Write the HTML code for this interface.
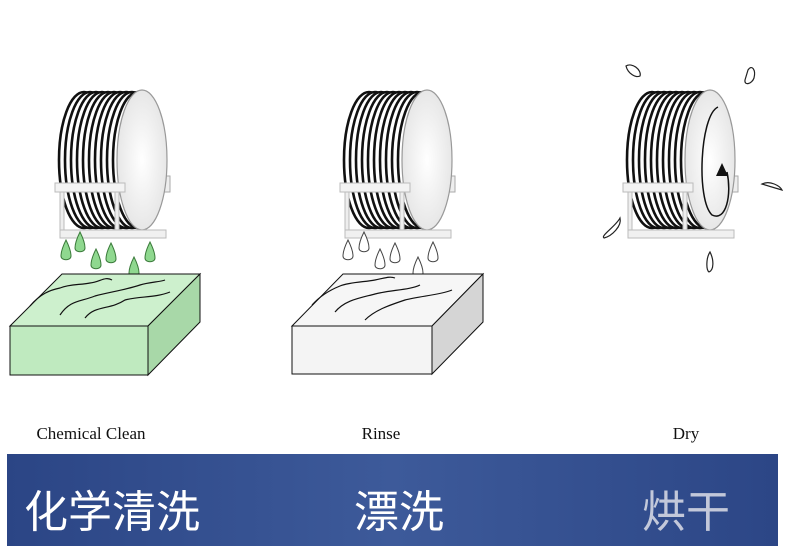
<!DOCTYPE html>
<html><head><meta charset="utf-8"><style>
html,body{margin:0;padding:0;background:#fff;width:800px;height:550px;overflow:hidden}
</style></head><body>
<svg width="800" height="550" viewBox="0 0 800 550" xmlns="http://www.w3.org/2000/svg">
<defs>
<linearGradient id="bn" x1="0" y1="0" x2="1" y2="0">
<stop offset="0" stop-color="#2b4585"/><stop offset="0.5" stop-color="#3d5a9a"/><stop offset="1" stop-color="#2c4686"/>
</linearGradient>
<radialGradient id="disc" cx="0.5" cy="0.5" r="0.6">
<stop offset="0" stop-color="#ffffff"/><stop offset="1" stop-color="#e2e2e2"/>
</radialGradient>
<g id="cas">
<g fill="#fff" stroke="#111" stroke-width="2.6">
<ellipse cx="84" cy="160" rx="25" ry="68"/>
<ellipse cx="90" cy="160" rx="25" ry="68"/>
<ellipse cx="96" cy="160" rx="25" ry="68"/>
<ellipse cx="102" cy="160" rx="25" ry="68"/>
<ellipse cx="108" cy="160" rx="25" ry="68"/>
<ellipse cx="114" cy="160" rx="25" ry="68"/>
<ellipse cx="120" cy="160" rx="25" ry="68"/>
<ellipse cx="126" cy="160" rx="25" ry="68"/>
<ellipse cx="132" cy="160" rx="25" ry="68"/>
<ellipse cx="138" cy="160" rx="25" ry="68"/>
</g>
<rect x="160" y="176" width="10" height="16" fill="#eee" stroke="#aaa"/>
<ellipse cx="142" cy="160" rx="25" ry="70" fill="url(#disc)" stroke="#999" stroke-width="1.2"/>
<rect x="55" y="183" width="70" height="9" fill="#f3f3f3" stroke="#bbb"/>
<rect x="60" y="192" width="4" height="40" fill="#eee" stroke="#bbb"/>
<rect x="115" y="192" width="4" height="40" fill="#eee" stroke="#bbb"/>
<rect x="60" y="230" width="106" height="8" fill="#f0f0f0" stroke="#bbb"/>
</g>
<path id="drop" d="M0,-13 C3,-7 5,-2 5,3 C5,8 -5,8 -5,3 C-5,-2 -3,-7 0,-13Z"/>
</defs>

<use href="#cas"/>
<g fill="#8fd88f" stroke="#3a7a3a" stroke-width="1">
<use href="#drop" x="66" y="253"/><use href="#drop" x="80" y="245"/><use href="#drop" x="96" y="262"/>
<use href="#drop" x="111" y="256"/><use href="#drop" x="134" y="270"/><use href="#drop" x="150" y="255"/>
</g>
<g stroke="#111" stroke-width="1">
<polygon points="10,326 62,274 200,274 148,326" fill="#cdf0cd"/>
<polygon points="10,326 148,326 148,375 10,375" fill="#bfeabf"/>
<polygon points="148,326 200,274 200,322 148,375" fill="#a8d8a8"/>
</g>
<g fill="none" stroke="#111" stroke-width="1.2">
<path d="M30,306 C40,294 50,290 60,288 C70,284 80,285 90,283 C100,282 105,276 112,280"/>
<path d="M60,315 C70,300 80,302 95,296 C110,292 125,290 140,285 C150,282 160,282 165,280"/>
<path d="M85,318 C95,305 110,310 125,300 C140,296 155,298 170,292"/>
</g>

<use href="#cas" x="285"/>
<g fill="#fff" stroke="#444" stroke-width="1">
<use href="#drop" x="348" y="253"/><use href="#drop" x="364" y="245"/><use href="#drop" x="380" y="262"/>
<use href="#drop" x="395" y="256"/><use href="#drop" x="418" y="270"/><use href="#drop" x="433" y="255"/>
</g>
<g stroke="#111" stroke-width="1">
<polygon points="292,326 343,274 483,274 432,326" fill="#f6f6f6"/>
<polygon points="292,326 432,326 432,374 292,374" fill="#f4f4f4"/>
<polygon points="432,326 483,274 483,322 432,374" fill="#d5d5d5"/>
</g>
<g fill="none" stroke="#111" stroke-width="1.2">
<path d="M312,305 C320,296 330,290 340,286 C350,282 365,282 375,280 C385,278 390,276 395,278"/>
<path d="M335,312 C345,300 360,298 375,294 C390,290 410,290 420,285"/>
<path d="M365,320 C375,310 390,305 405,300 C420,296 440,295 452,290"/>
</g>

<use href="#cas" x="568"/>
<path d="M718,107 C700,115 696,200 712,215 C726,222 732,195 727,172" fill="none" stroke="#111" stroke-width="1.5"/>
<polygon points="722,163 716,176 728,176" fill="#111"/>
<g fill="#fff" stroke="#222" stroke-width="1.2">
<path d="M626,66 C632,62 642,70 640,76 C636,78 628,74 626,66Z"/>
<path d="M748,70 C752,64 756,70 754,78 C752,84 744,86 745,80Z"/>
<path d="M762,184 C770,180 780,186 782,190 C775,188 768,186 762,184Z"/>
<path d="M620,218 C616,226 600,236 604,238 C612,236 622,226 620,218Z"/>
<path d="M710,252 C706,258 706,270 709,272 C714,270 714,260 710,252Z"/>
</g>

<g font-family="Liberation Serif, serif" font-size="17" fill="#111" text-anchor="middle">
<text x="91" y="439">Chemical Clean</text>
<text x="381" y="439">Rinse</text>
<text x="686" y="439">Dry</text>
</g>

<rect x="7" y="454" width="771" height="92" fill="url(#bn)"/>
<g font-family="Liberation Sans, Noto Sans CJK SC, sans-serif" font-size="44" fill="#fff">
<text x="24" y="527" textLength="176" lengthAdjust="spacingAndGlyphs">化学清洗</text>
<text x="354" y="527" textLength="90" lengthAdjust="spacingAndGlyphs">漂洗</text>
<text x="642" y="527" textLength="88" lengthAdjust="spacingAndGlyphs" fill="#e8e8ee" opacity="0.8">烘干</text>
</g>
</svg>
</body></html>
